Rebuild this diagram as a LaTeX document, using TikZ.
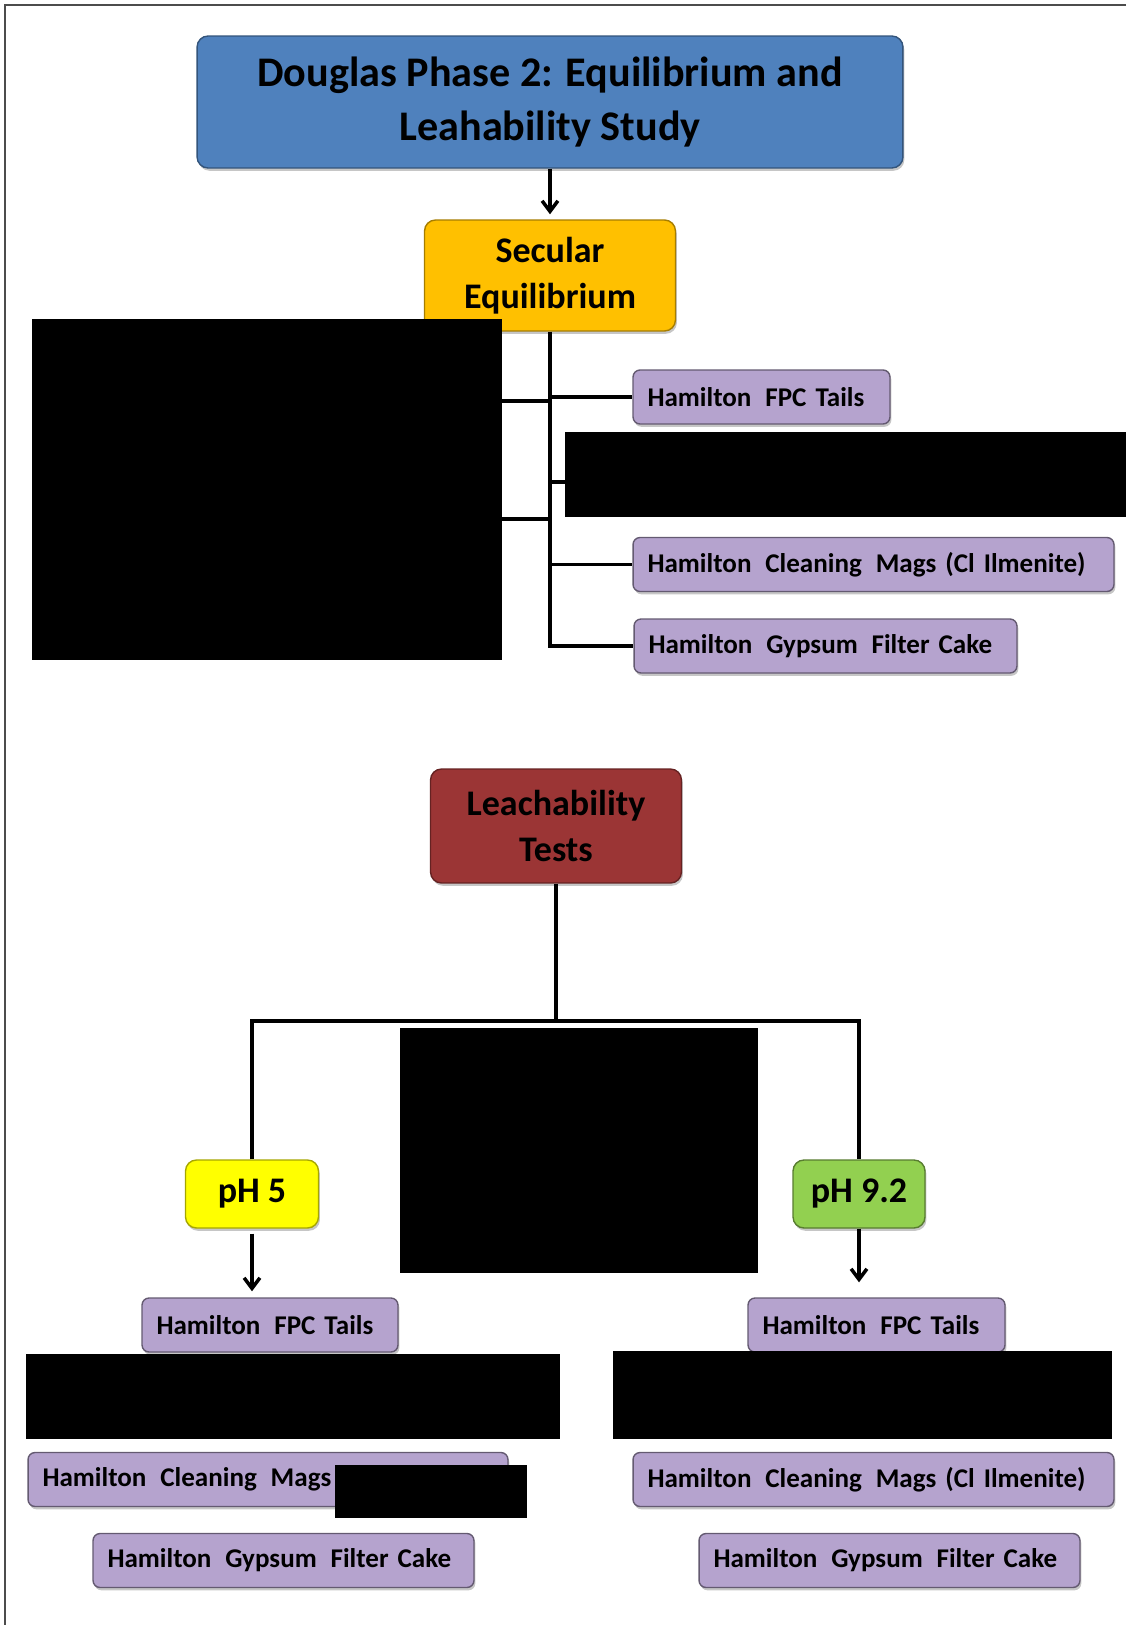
\documentclass[tikz,border=0pt]{standalone}
\usepackage{fontspec}
\setmainfont{Carlito}
\usetikzlibrary{arrows.meta, shadows}

\definecolor{headblue}{HTML}{4F81BD}
\definecolor{secgold}{HTML}{FFC000}
\definecolor{leachred}{HTML}{9B3535}
\definecolor{samplelilac}{HTML}{B5A3CE}
\definecolor{phyellow}{HTML}{FFFF00}
\definecolor{phgreen}{HTML}{92D050}

\newcommand{\gap}{\hspace{0.18em}}

\begin{document}
\begin{tikzpicture}[x = 0.02cm, y = -0.02cm,
  box/.style = {rounded corners = 0.22cm, line width = 0.8pt, align = center, inner sep = 0pt,
    drop shadow = {shadow xshift = 0.8pt, shadow yshift = -1.6pt, opacity = 0.45}},
  leaf/.style = {box, rounded corners = 0.14cm, fill = samplelilac, draw = samplelilac!55!black,
    minimum height = 1.08cm, inner xsep = 0.29cm, align = left,
    font = \bfseries\fontsize{15.4}{18}\selectfont},
  link/.style = {line width = 2pt},
  arr/.style = {link, -{Straight Barb[length = 6pt, width = 9pt]}},
  hide/.style = {fill = black}]
\useasboundingbox (0, 0) rectangle (1126, 1625);

% frame
\draw[gray!60!black, line width = 1.2pt] (1126, 5) -- (5, 5) -- (5, 1625);

% main boxes
\node[box, fill = headblue, draw = headblue!65!black, minimum width = 14.12cm, minimum height = 2.64cm,
  font = \bfseries\fontsize{24}{31}\selectfont] (head) at (550, 102) {Douglas Phase 2: Equilibrium and\\Leahability Study};
\node[box, fill = secgold, draw = secgold!65!black, minimum width = 5.02cm, minimum height = 2.22cm,
  font = \bfseries\fontsize{20.5}{26}\selectfont] (sec) at (550, 275.5) {Secular\\Equilibrium};
\node[box, fill = leachred, draw = leachred!65!black, minimum width = 5.02cm, minimum height = 2.28cm,
  font = \bfseries\fontsize{20.5}{26}\selectfont] (leach) at (556, 826) {Leachability\\Tests};
\node[box, fill = phyellow, draw = phyellow!65!black, minimum width = 2.66cm, minimum height = 1.36cm,
  font = \bfseries\fontsize{20.5}{24}\selectfont] (phlow) at (252, 1194) {pH 5};
\node[box, fill = phgreen, draw = phgreen!60!black, minimum width = 2.64cm, minimum height = 1.36cm,
  font = \bfseries\fontsize{20.5}{24}\selectfont] (phhigh) at (859, 1194) {pH 9.2};

% samples, secular equilibrium
\node[leaf, text width = 4.56cm] (sFPC) at (761.5, 397) {Hamilton \gap FPC Tails};
\node[leaf, text width = 9.04cm] (sMags) at (873.5, 564.5) {Hamilton \gap Cleaning \gap Mags (Cl Ilmenite)};
\node[leaf, text width = 7.08cm] (sGyp) at (825.5, 646) {Hamilton \gap Gypsum \gap Filter Cake};

% samples, pH 5
\node[leaf, text width = 4.54cm] (lFPC) at (270, 1325) {Hamilton \gap FPC Tails};
\node[leaf, text width = 9.02cm] (lMags) at (268, 1479.5) {Hamilton \gap Cleaning \gap Mags};
\node[leaf, text width = 7.04cm] (lGyp) at (283.5, 1560.5) {Hamilton \gap Gypsum \gap Filter Cake};

% samples, pH 9.2
\node[leaf, text width = 4.56cm] (rFPC) at (876.5, 1325) {Hamilton \gap FPC Tails};
\node[leaf, text width = 9.04cm] (rMags) at (873.5, 1479.5) {Hamilton \gap Cleaning \gap Mags (Cl Ilmenite)};
\node[leaf, text width = 7.04cm] (rGyp) at (889.5, 1560.5) {Hamilton \gap Gypsum \gap Filter Cake};

% connectors
\draw[arr, shorten >= 0.1cm] (head.south) -- (sec.north);
\draw[link] (sec.south) |- (sGyp.west);
\draw[link] (sec.south |- sFPC.west) -- (sFPC.west);
\draw[link] (sec.south |- sMags.west) -- (sMags.west);
\coordinate (hidE) at (565, 482);
\coordinate (hidWa) at (502, 401);
\coordinate (hidWb) at (502, 519);
\draw[link] (sec.south |- hidE) -- (hidE);
\draw[link] (hidWa) -- (hidWa -| sec.south);
\draw[link] (hidWb) -- (hidWb -| sec.south);

\coordinate (split) at (556, 1021);
\draw[link] (leach.south) -- (split);
\draw[link] (phlow.north) |- (split) -| (phhigh.north);
\draw[arr, shorten <= 0.1cm, shorten >= 0.12cm] (phlow.south) -- (phlow.south |- lFPC.north);
\draw[arr, shorten >= 0.3cm] (phhigh.south) -- (phhigh.south |- rFPC.north);

% blacked out parts
\fill[hide] (32, 319) rectangle (502, 660);
\fill[hide] (565, 432) rectangle (1126, 517);
\fill[hide] (400, 1028) rectangle (758, 1273);
\fill[hide] (26, 1354) rectangle (560, 1439);
\fill[hide] (335, 1465) rectangle (527, 1518);
\fill[hide] (613, 1351) rectangle (1112, 1439);

\end{tikzpicture}
\end{document}
